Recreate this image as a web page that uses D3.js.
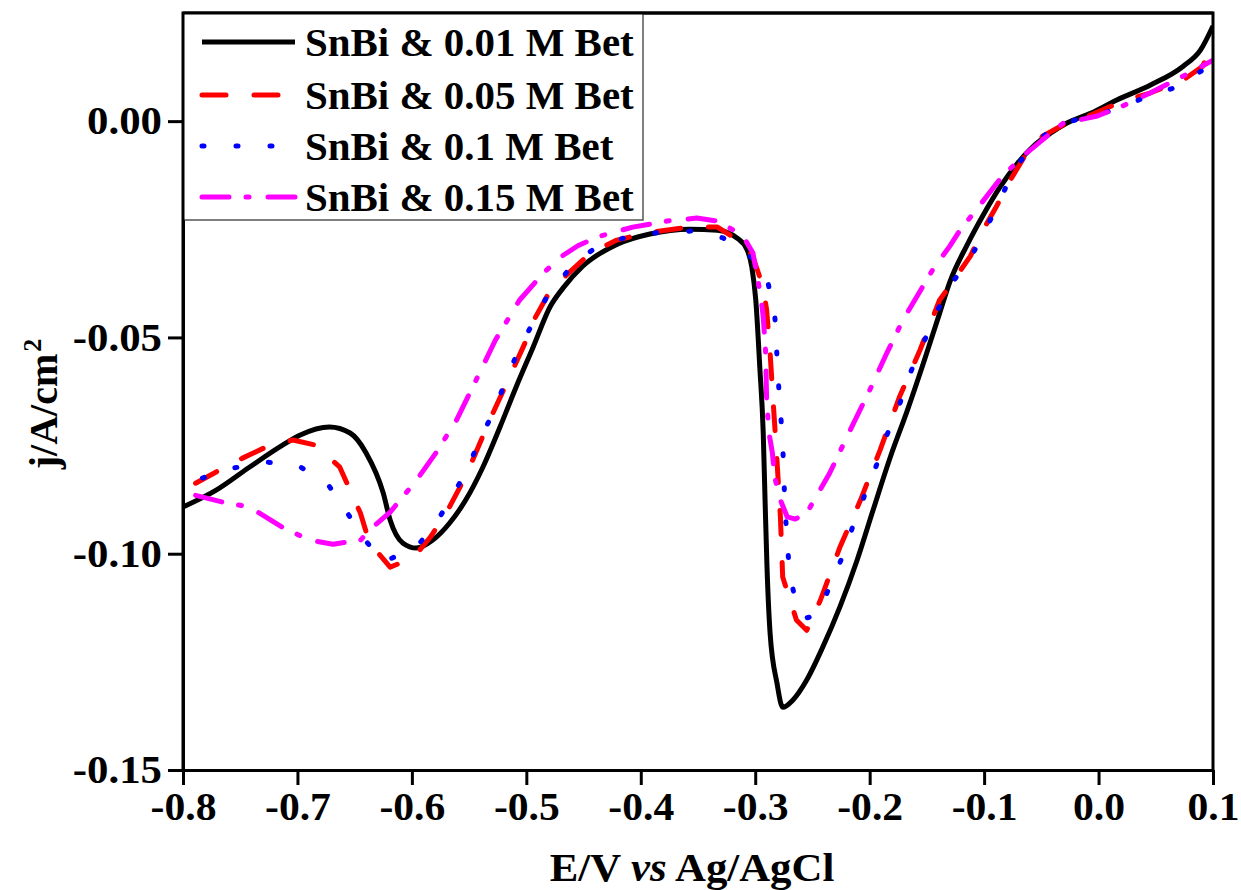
<!DOCTYPE html>
<html>
<head>
<meta charset="utf-8">
<script src="https://cdn.jsdelivr.net/npm/d3@7"></script>
<style>
  body { margin: 0; background: #fff; }
  text { font-family: "Liberation Serif", "Times New Roman", serif; font-weight: bold; }
</style>
</head>
<body>
<div id="root"></div>
<script>
// series data: [E (V vs Ag/AgCl), j (A/cm2)]
var bet001 = [
  [-0.800, -0.0892], [-0.771, -0.0853], [-0.742, -0.0800], [-0.713, -0.0749], [-0.698, -0.0726],
  [-0.672, -0.0707], [-0.654, -0.0721], [-0.640, -0.0767], [-0.625, -0.0860], [-0.619, -0.0922],
  [-0.608, -0.0975], [-0.596, -0.0987], [-0.582, -0.0969], [-0.567, -0.0929], [-0.553, -0.0876],
  [-0.538, -0.0800], [-0.523, -0.0707], [-0.509, -0.0615], [-0.494, -0.0522], [-0.479, -0.0428],
  [-0.468, -0.0386], [-0.451, -0.0336], [-0.421, -0.0285], [-0.392, -0.0261], [-0.357, -0.0250],
  [-0.333, -0.0252], [-0.316, -0.0270], [-0.307, -0.0298], [-0.303, -0.0337], [-0.2995, -0.0414],
  [-0.296, -0.0569], [-0.293, -0.0721], [-0.2914, -0.0876], [-0.2897, -0.1031], [-0.287, -0.1184],
  [-0.281, -0.1299], [-0.276, -0.1355], [-0.267, -0.1338], [-0.255, -0.1292], [-0.241, -0.1216],
  [-0.226, -0.1123], [-0.211, -0.1015], [-0.197, -0.0899], [-0.182, -0.0777], [-0.167, -0.0668],
  [-0.153, -0.0559], [-0.139, -0.0445], [-0.130, -0.0372], [-0.115, -0.0287], [-0.101, -0.0218],
  [-0.086, -0.0152], [-0.071, -0.0098], [-0.057, -0.0058], [-0.042, -0.0028], [-0.028, -0.0005],
  [-0.007, 0.0018], [0.016, 0.0049], [0.045, 0.0083], [0.074, 0.0127], [0.089, 0.0164], [0.100, 0.0220]
];
var bet005 = [
  [-0.789, -0.0837], [-0.771, -0.0811], [-0.748, -0.0779], [-0.728, -0.0754], [-0.704, -0.0737],
  [-0.684, -0.0749], [-0.663, -0.0800], [-0.654, -0.0853], [-0.645, -0.0906], [-0.637, -0.0975],
  [-0.619, -0.1031], [-0.599, -0.1010], [-0.584, -0.0962], [-0.570, -0.0906], [-0.558, -0.0846],
  [-0.547, -0.0784], [-0.532, -0.0691], [-0.520, -0.0622], [-0.512, -0.0576], [-0.500, -0.0506],
  [-0.492, -0.0453], [-0.479, -0.0391], [-0.465, -0.0356], [-0.444, -0.0305], [-0.421, -0.0275],
  [-0.392, -0.0257], [-0.357, -0.0245], [-0.333, -0.0245], [-0.311, -0.0282], [-0.302, -0.0314],
  [-0.293, -0.0384], [-0.290, -0.0437], [-0.287, -0.0536], [-0.284, -0.0661], [-0.281, -0.0784],
  [-0.278, -0.0915], [-0.276, -0.1054], [-0.264, -0.1153], [-0.255, -0.1177], [-0.243, -0.1107],
  [-0.226, -0.0985], [-0.208, -0.0876], [-0.191, -0.0761], [-0.174, -0.0638], [-0.156, -0.0529],
  [-0.139, -0.0414], [-0.130, -0.0381], [-0.112, -0.0312], [-0.101, -0.0252], [-0.089, -0.0196],
  [-0.077, -0.0136], [-0.063, -0.0074], [-0.049, -0.0035], [-0.031, -0.0009], [-0.007, 0.0014],
  [0.021, 0.0046], [0.045, 0.0065], [0.074, 0.0095], [0.091, 0.0127], [0.100, 0.0180]
];
var bet01 = [
  [-0.783, -0.0825], [-0.756, -0.0802], [-0.728, -0.0788], [-0.700, -0.0795], [-0.673, -0.0841],
  [-0.658, -0.0899], [-0.643, -0.0962], [-0.625, -0.1019], [-0.596, -0.0985], [-0.579, -0.0929],
  [-0.564, -0.0865], [-0.551, -0.0800], [-0.540, -0.0733], [-0.527, -0.0663], [-0.518, -0.0599],
  [-0.506, -0.0525], [-0.492, -0.0455], [-0.479, -0.0391], [-0.468, -0.0361], [-0.459, -0.0328],
  [-0.436, -0.0287], [-0.412, -0.0268], [-0.383, -0.0257], [-0.355, -0.0254], [-0.328, -0.0270],
  [-0.302, -0.0317], [-0.289, -0.0372], [-0.283, -0.0444], [-0.280, -0.0594], [-0.276, -0.0744],
  [-0.274, -0.0895], [-0.272, -0.0973], [-0.270, -0.1045], [-0.264, -0.1119], [-0.256, -0.1149],
  [-0.246, -0.1142], [-0.235, -0.1077], [-0.224, -0.1008], [-0.215, -0.0939], [-0.205, -0.0869],
  [-0.194, -0.0795], [-0.185, -0.0726], [-0.174, -0.0656], [-0.165, -0.0585], [-0.153, -0.0513],
  [-0.142, -0.0444], [-0.130, -0.0381], [-0.112, -0.0317], [-0.099, -0.0252], [-0.086, -0.0183],
  [-0.075, -0.0116], [-0.056, -0.0051], [-0.036, -0.0009], [-0.014, 0.0007], [0.013, 0.0025],
  [0.039, 0.0053], [0.065, 0.0076], [0.091, 0.0118], [0.100, 0.0146]
];
var bet015 = [
  [-0.789, -0.0865], [-0.765, -0.0881], [-0.742, -0.0892], [-0.713, -0.0939], [-0.689, -0.0969],
  [-0.669, -0.0978], [-0.645, -0.0969], [-0.637, -0.0945], [-0.619, -0.0904], [-0.596, -0.0830],
  [-0.579, -0.0767], [-0.561, -0.0691], [-0.544, -0.0599], [-0.527, -0.0506], [-0.506, -0.0414],
  [-0.485, -0.0351], [-0.470, -0.0314], [-0.455, -0.0288], [-0.436, -0.0266], [-0.407, -0.0245],
  [-0.377, -0.0231], [-0.351, -0.0224], [-0.333, -0.0231], [-0.311, -0.0264], [-0.302, -0.0305],
  [-0.298, -0.0361], [-0.294, -0.0430], [-0.293, -0.0453], [-0.291, -0.0529], [-0.290, -0.0645],
  [-0.288, -0.0721], [-0.285, -0.0767], [-0.283, -0.0823], [-0.278, -0.0876], [-0.272, -0.0915],
  [-0.265, -0.0920], [-0.255, -0.0906], [-0.235, -0.0814], [-0.217, -0.0714], [-0.200, -0.0622],
  [-0.185, -0.0536], [-0.171, -0.0460], [-0.145, -0.0344], [-0.130, -0.0289], [-0.121, -0.0252],
  [-0.101, -0.0185], [-0.084, -0.0127], [-0.063, -0.0074], [-0.042, -0.0028], [-0.031, -0.0005],
  [-0.001, 0.0012], [0.021, 0.0035], [0.045, 0.0065], [0.074, 0.0104], [0.100, 0.0141]
];

var seriesNames = ["SnBi & 0.01 M Bet", "SnBi & 0.05 M Bet", "SnBi & 0.1 M Bet", "SnBi & 0.15 M Bet"];
var xTicks = [-0.8, -0.7, -0.6, -0.5, -0.4, -0.3, -0.2, -0.1, 0.0, 0.1];
var yTicks = [0.00, -0.05, -0.10, -0.15];

var series = [
  { name: seriesNames[0], data: bet001, color: "#000000", dash: null, curve: d3.curveMonotoneX },
  { name: seriesNames[1], data: bet005, color: "#ff0000", dash: "24,28", curve: d3.curveLinear },
  { name: seriesNames[2], data: bet01, color: "#0000ff", dash: "2,32", curve: d3.curveLinear },
  { name: seriesNames[3], data: bet015, color: "#ff00ff", dash: "27,17,3,19", curve: d3.curveLinear }
];

var W = 1241, H = 890;
var margin = { top: 13, right: 28, bottom: 120, left: 183 },
  width = W - margin.left - margin.right,
  height = H - margin.top - margin.bottom;

// the reference lettering is a bit wider than Times, stretch it sideways
function widen(sel, k) {
  sel.each(function () {
    var w = this.getComputedTextLength();
    d3.select(this).attr("textLength", w * k).attr("lengthAdjust", "spacingAndGlyphs");
  });
}

var root = d3.select("#root").append("svg")
  .attr("width", W)
  .attr("height", H);

var svg = root.append("g")
  .attr("transform", `translate(${margin.left},${margin.top})`);

var x = d3.scaleLinear().domain([-0.8, 0.1]).range([0, width]);
var y = d3.scaleLinear().domain([-0.15, 0.025]).range([height, 0]);

svg.append("clipPath").attr("id", "clip")
  .append("rect").attr("width", width).attr("height", height);

// curves
var plot = svg.append("g").attr("clip-path", "url(#clip)");
series.forEach(function (s) {
  plot.append("path")
    .datum(s.data)
    .attr("fill", "none")
    .attr("stroke", s.color)
    .attr("stroke-width", 5)
    .attr("stroke-linecap", s.dash ? "round" : "butt")
    .attr("stroke-linejoin", "round")
    .attr("stroke-dasharray", s.dash)
    .attr("d", d3.line().curve(s.curve)
      .x(function (d) { return x(d[0]); })
      .y(function (d) { return y(d[1]); }));
});

// axes
var xAxis = svg.append("g")
  .attr("transform", "translate(0," + height + ")")
  .call(d3.axisBottom(x).tickValues(xTicks).tickSize(15).tickPadding(7).tickSizeOuter(0));
var yAxis = svg.append("g")
  .call(d3.axisLeft(y).tickValues(yTicks).tickSize(15).tickPadding(6).tickSizeOuter(0));

[xAxis, yAxis].forEach(function (a) {
  a.select(".domain").attr("stroke-width", 3);
  a.selectAll(".tick line").attr("stroke-width", 3);
  a.selectAll(".tick text").attr("font-size", 40).attr("fill", "#000")
    .style("font-family", "'Liberation Serif', 'Times New Roman', serif").style("font-weight", "bold");
});
xAxis.selectAll(".tick text").text(function (d) { return d3.format(".1f")(d).replace("−", "-"); });
yAxis.selectAll(".tick text").text(function (d) { return d3.format(".2f")(d).replace("−", "-"); });
widen(xAxis.selectAll(".tick text"), 1.04);
widen(yAxis.selectAll(".tick text"), 1.07);

// frame top/right
svg.append("path")
  .attr("d", `M0,0H${width}V${height}`)
  .attr("fill", "none").attr("stroke", "#000").attr("stroke-width", 3);

// legend
var lg = svg.append("g");
lg.append("rect")
  .attr("x", 0).attr("y", 0).attr("width", 460).attr("height", 207)
  .attr("fill", "#fff").attr("stroke", "#555").attr("stroke-width", 1.5);
var rowY = [29, 82, 133, 184];
series.forEach(function (s, i) {
  lg.append("line")
    .attr("x1", 19).attr("x2", 112).attr("y1", rowY[i]).attr("y2", rowY[i])
    .attr("stroke", s.color).attr("stroke-width", 5)
    .attr("stroke-linecap", s.dash ? "round" : "butt")
    .attr("stroke-dasharray", s.dash);
  lg.append("text")
    .attr("x", 122).attr("y", rowY[i] + 14)
    .attr("font-size", 39)
    .text(s.name)
    .call(widen, 1.05);
});
// redraw frame top/left edges over the legend
svg.append("path").attr("d", `M0,${height}V0H${width}`)
  .attr("fill", "none").attr("stroke", "#000").attr("stroke-width", 3);

// axis titles
var xt = root.append("text")
  .attr("x", margin.left + width / 2 - 6).attr("y", 881)
  .attr("text-anchor", "middle").attr("font-size", 40);
xt.append("tspan").text("E/V ");
xt.append("tspan").attr("font-style", "italic").text("vs");
xt.append("tspan").text(" Ag/AgCl");
widen(xt, 1.07);

var yt = root.append("text")
  .attr("transform", "translate(57,404) rotate(-90)")
  .attr("text-anchor", "middle").attr("font-size", 40);
yt.append("tspan").text("j/A/cm");
yt.append("tspan").attr("font-size", 26).attr("dy", -16).attr("dx", 2).text("2");
</script>
</body>
</html>
